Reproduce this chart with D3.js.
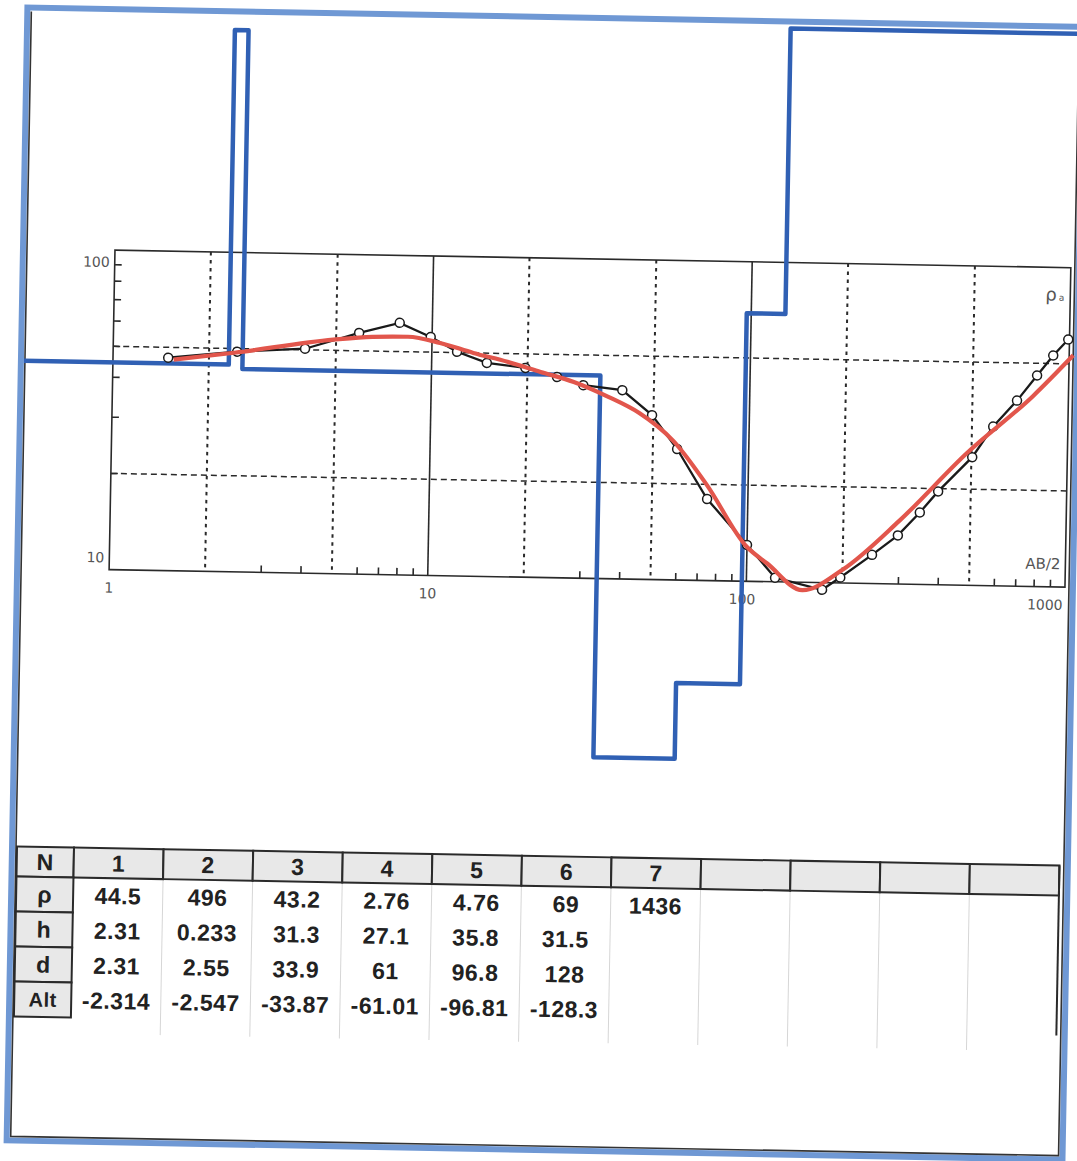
<!DOCTYPE html>
<html><head><meta charset="utf-8">
<script src="https://cdn.jsdelivr.net/npm/d3@7"></script>
<style>body{margin:0;background:#fff} svg{display:block}</style>
</head><body>
<svg id="c" width="1077" height="1161"></svg>
<script>
// ---- data ----
const abHalf = [1.49, 2.45, 4.0, 5.9, 7.9, 9.9, 12.0, 14.9, 19.7, 24.8, 30, 39.8, 49.5, 59.6, 74.5, 100, 123, 173, 197, 247, 297, 347, 395, 503, 583, 690, 795, 891, 991];
const rhoApparent = [46.4, 48.9, 50.4, 56.9, 61.5, 55.8, 50.3, 46.6, 45.2, 42.5, 40.2, 39.0, 32.7, 25.7, 18.0, 13.0, 10.3, 9.5, 10.4, 12.3, 14.2, 16.8, 19.6, 25.2, 31.5, 38.1, 45.8, 53.0, 59.6];
const modelAB = [1.55, 2.4, 4.9, 6.5, 8.4, 10.6, 13.5, 17.3, 22, 28, 36, 45, 58, 74, 100, 116, 150, 200, 300, 485, 775, 1030];
const modelRho = [45.8, 48.5, 54.0, 55.4, 55.7, 53.5, 50.0, 47.1, 44.0, 41.1, 37.1, 33.2, 27.2, 20.0, 12.8, 11.4, 9.45, 11.0, 15.8, 26.0, 39.5, 53.2];
const layerRho = [44.5, 496, 43.2, 2.76, 4.76, 69, 1436];
const layerDepth = [2.31, 2.55, 33.9, 61, 96.8, 128];
const layerNumbers = ["1", "2", "3", "4", "5", "6", "7", "", "", "", ""];
const rowLabels = ["ρ", "h", "d", "Alt"];
const rowRho = ["44.5", "496", "43.2", "2.76", "4.76", "69", "1436"];
const rowH = ["2.31", "0.233", "31.3", "27.1", "35.8", "31.5"];
const rowD = ["2.31", "2.55", "33.9", "61", "96.8", "128"];
const rowAlt = ["-2.314", "-2.547", "-33.87", "-61.01", "-96.81", "-128.3"];
const xTickLabels = ["1", "10", "100", "1000"];
const yTickLabels = ["10", "100"];
const xGridDotted = [2, 5, 20, 50, 200, 500];
const xGridSolid = [10, 100];
const yGridDashed = [20, 50];
const xMinor = [3, 4, 6, 7, 8, 9, 30, 40, 60, 70, 80, 90, 300, 400, 600, 700, 800, 900];
const yMinor = [20, 30, 40, 50, 60, 70, 80, 90];

// ---- layout ----
const svg = d3.select("#c");
const root = svg.append("g").attr("transform", "rotate(1.05 540 580)");
const frame = {l: 17, t: 17, r: 1073, b: 1150, sw: 6};
const plot = {l: 109, r: 1065, t: 258, b: 577.5};
const x = d3.scaleLog().domain([1, 1000]).range([plot.l, plot.r]);
const y = d3.scaleLog().domain([10, 100]).range([plot.b, plot.t]);
const ink = "#2a2a2a";

// outer frame
root.append("rect").attr("x", frame.l).attr("y", frame.t)
  .attr("width", frame.r - frame.l).attr("height", frame.b - frame.t)
  .attr("fill", "#fff").attr("stroke", "#6f98d4").attr("stroke-width", frame.sw);
const fin = frame.sw / 2 + 1;
root.append("path")
  .attr("d", `M${frame.l + fin},${frame.t + 4}V${frame.b - fin}H${frame.r - fin}V${frame.t + 4}`)
  .attr("fill", "none").attr("stroke", "#333").attr("stroke-width", 1.6);

// grid
const g = root.append("g");
g.selectAll(".vd").data(xGridDotted).join("line")
  .attr("x1", d => x(d)).attr("x2", d => x(d)).attr("y1", plot.t).attr("y2", plot.b)
  .attr("stroke", ink).attr("stroke-width", 2).attr("stroke-dasharray", "3.5,4.5");
g.selectAll(".hd").data(yGridDashed).join("line")
  .attr("x1", plot.l).attr("x2", plot.r).attr("y1", d => y(d)).attr("y2", d => y(d))
  .attr("stroke", ink).attr("stroke-width", 1.5).attr("stroke-dasharray", "6,4");
g.selectAll(".vs").data(xGridSolid).join("line")
  .attr("x1", d => x(d)).attr("x2", d => x(d)).attr("y1", plot.t).attr("y2", plot.b)
  .attr("stroke", ink).attr("stroke-width", 1.6);
g.selectAll(".xm").data(xMinor).join("line")
  .attr("x1", d => x(d)).attr("x2", d => x(d)).attr("y1", plot.b).attr("y2", plot.b - 7)
  .attr("stroke", ink).attr("stroke-width", 1.6);
g.selectAll(".ym").data(yMinor).join("line")
  .attr("x1", plot.l).attr("x2", plot.l + 7).attr("y1", d => y(d)).attr("y2", d => y(d))
  .attr("stroke", ink).attr("stroke-width", 1.6);
g.append("rect").attr("x", plot.l).attr("y", plot.t)
  .attr("width", plot.r - plot.l).attr("height", plot.b - plot.t)
  .attr("fill", "none").attr("stroke", ink).attr("stroke-width", 1.6);

// axis labels
const lab = root.append("g").attr("font-family", "DejaVu Sans, Verdana, sans-serif")
  .attr("font-size", 14).attr("fill", "#555");
lab.selectAll(".xl").data(xTickLabels).join("text")
  .attr("x", (d, i) => i === 3 ? x(+d) - 2 : (i === 2 ? x(+d) - 4 : x(+d)))
  .attr("y", plot.b + 18).attr("dy", "0.35em")
  .attr("text-anchor", (d, i) => i === 3 ? "end" : "middle").text(d => d);
lab.selectAll(".yl").data(yTickLabels).join("text")
  .attr("x", plot.l - 5)
  .attr("y", d => +d === 100 ? y(100) + 12 : y(10) - 12).attr("dy", "0.35em")
  .attr("text-anchor", "end").text(d => d);
const rl = lab.append("text").attr("x", plot.r - 6).attr("y", plot.t + 27).attr("dy", "0.35em")
  .attr("text-anchor", "end").attr("font-size", 18);
rl.append("tspan").text("ρ");
rl.append("tspan").attr("font-size", 9).attr("dx", 2).text("a");
lab.append("text").attr("x", plot.r - 5).attr("y", plot.b - 23).attr("dy", "0.35em")
  .attr("text-anchor", "end").attr("font-size", 15).text("AB/2");

// layer model (blue step line), clamped to the frame top
const yTop = frame.t + frame.sw / 2 + 4;
const Yc = v => Math.max(y(v), yTop);
const steps = [];
let px = frame.l + frame.sw / 2;
layerDepth.forEach((dep, i) => {
  steps.push([px, Yc(layerRho[i])]);
  steps.push([x(dep), Yc(layerRho[i])]);
  px = x(dep);
});
steps.push([px, Yc(layerRho[layerRho.length - 1])]);
steps.push([frame.r - frame.sw / 2, Yc(layerRho[layerRho.length - 1])]);
root.append("path").attr("d", d3.line()(steps)).attr("fill", "none")
  .attr("stroke", "#3060b4").attr("stroke-width", 4.5).attr("stroke-linejoin", "round");

// field data
const field = abHalf.map((a, i) => [a, rhoApparent[i]]);
root.append("path").attr("d", d3.line().x(d => x(d[0])).y(d => y(d[1]))(field))
  .attr("fill", "none").attr("stroke", "#1a1a1a").attr("stroke-width", 2.3);
root.selectAll(".mk").data(field).join("circle")
  .attr("cx", d => x(d[0])).attr("cy", d => y(d[1])).attr("r", 4.5)
  .attr("fill", "#fff").attr("stroke", "#1a1a1a").attr("stroke-width", 1.5);

// model curve
const model = modelAB.map((a, i) => [a, modelRho[i]]);
root.append("path").attr("d", d3.line().x(d => x(d[0])).y(d => y(d[1])).curve(d3.curveMonotoneX)(model))
  .attr("fill", "none").attr("stroke", "#e2564c").attr("stroke-width", 4.2).attr("stroke-linejoin", "round");

// ---- table ----
const T = {l: 22, labW: 57, colW: 89.6, top: 856, headH: 30, rowH: 35, n: 11};
const tb = root.append("g");
const colX = i => T.l + T.labW + i * T.colW;
const dataTop = T.top + T.headH;
const tRight = colX(T.n);
tb.selectAll(".sep").data(d3.range(1, T.n)).join("line")
  .attr("x1", i => colX(i)).attr("x2", i => colX(i))
  .attr("y1", dataTop).attr("y2", dataTop + 4 * T.rowH + 16)
  .attr("stroke", "#d6d6d6").attr("stroke-width", 1);
tb.append("rect").attr("x", T.l).attr("y", T.top).attr("width", T.labW).attr("height", T.headH)
  .attr("fill", "#e8e8e8").attr("stroke", ink).attr("stroke-width", 2);
tb.selectAll(".hc").data(layerNumbers).join("rect")
  .attr("x", (d, i) => colX(i)).attr("y", T.top).attr("width", T.colW).attr("height", T.headH)
  .attr("fill", "#e8e8e8").attr("stroke", ink).attr("stroke-width", 2);
tb.selectAll(".lc").data(rowLabels).join("rect")
  .attr("x", T.l).attr("y", (d, i) => dataTop + i * T.rowH).attr("width", T.labW).attr("height", T.rowH)
  .attr("fill", "#e8e8e8").attr("stroke", ink).attr("stroke-width", 2);
tb.append("line").attr("x1", tRight).attr("x2", tRight).attr("y1", T.top).attr("y2", dataTop + 4 * T.rowH)
  .attr("stroke", ink).attr("stroke-width", 2);

const txt = tb.append("g").attr("font-family", "Liberation Sans, Arial, sans-serif")
  .attr("font-weight", "bold").attr("font-size", 23).attr("fill", "#222")
  .attr("text-anchor", "middle").attr("letter-spacing", 0.5);
txt.append("text").attr("x", T.l + T.labW / 2).attr("y", T.top + T.headH / 2).attr("dy", "0.36em").text("N");
txt.selectAll(".hn").data(layerNumbers).join("text")
  .attr("x", (d, i) => colX(i) + T.colW / 2).attr("y", T.top + T.headH / 2).attr("dy", "0.36em").text(d => d);
txt.selectAll(".rl").data(rowLabels).join("text")
  .attr("x", T.l + T.labW / 2).attr("y", (d, i) => dataTop + i * T.rowH + T.rowH / 2).attr("dy", "0.36em")
  .attr("font-size", (d, i) => i === 3 ? 20 : 23).text(d => d);
[rowRho, rowH, rowD, rowAlt].forEach((row, r) => {
  txt.selectAll(".v" + r).data(row).join("text")
    .attr("x", (d, i) => colX(i) + T.colW / 2)
    .attr("y", dataTop + r * T.rowH + T.rowH / 2).attr("dy", "0.36em").text(d => d);
});
</script>
</body></html>
